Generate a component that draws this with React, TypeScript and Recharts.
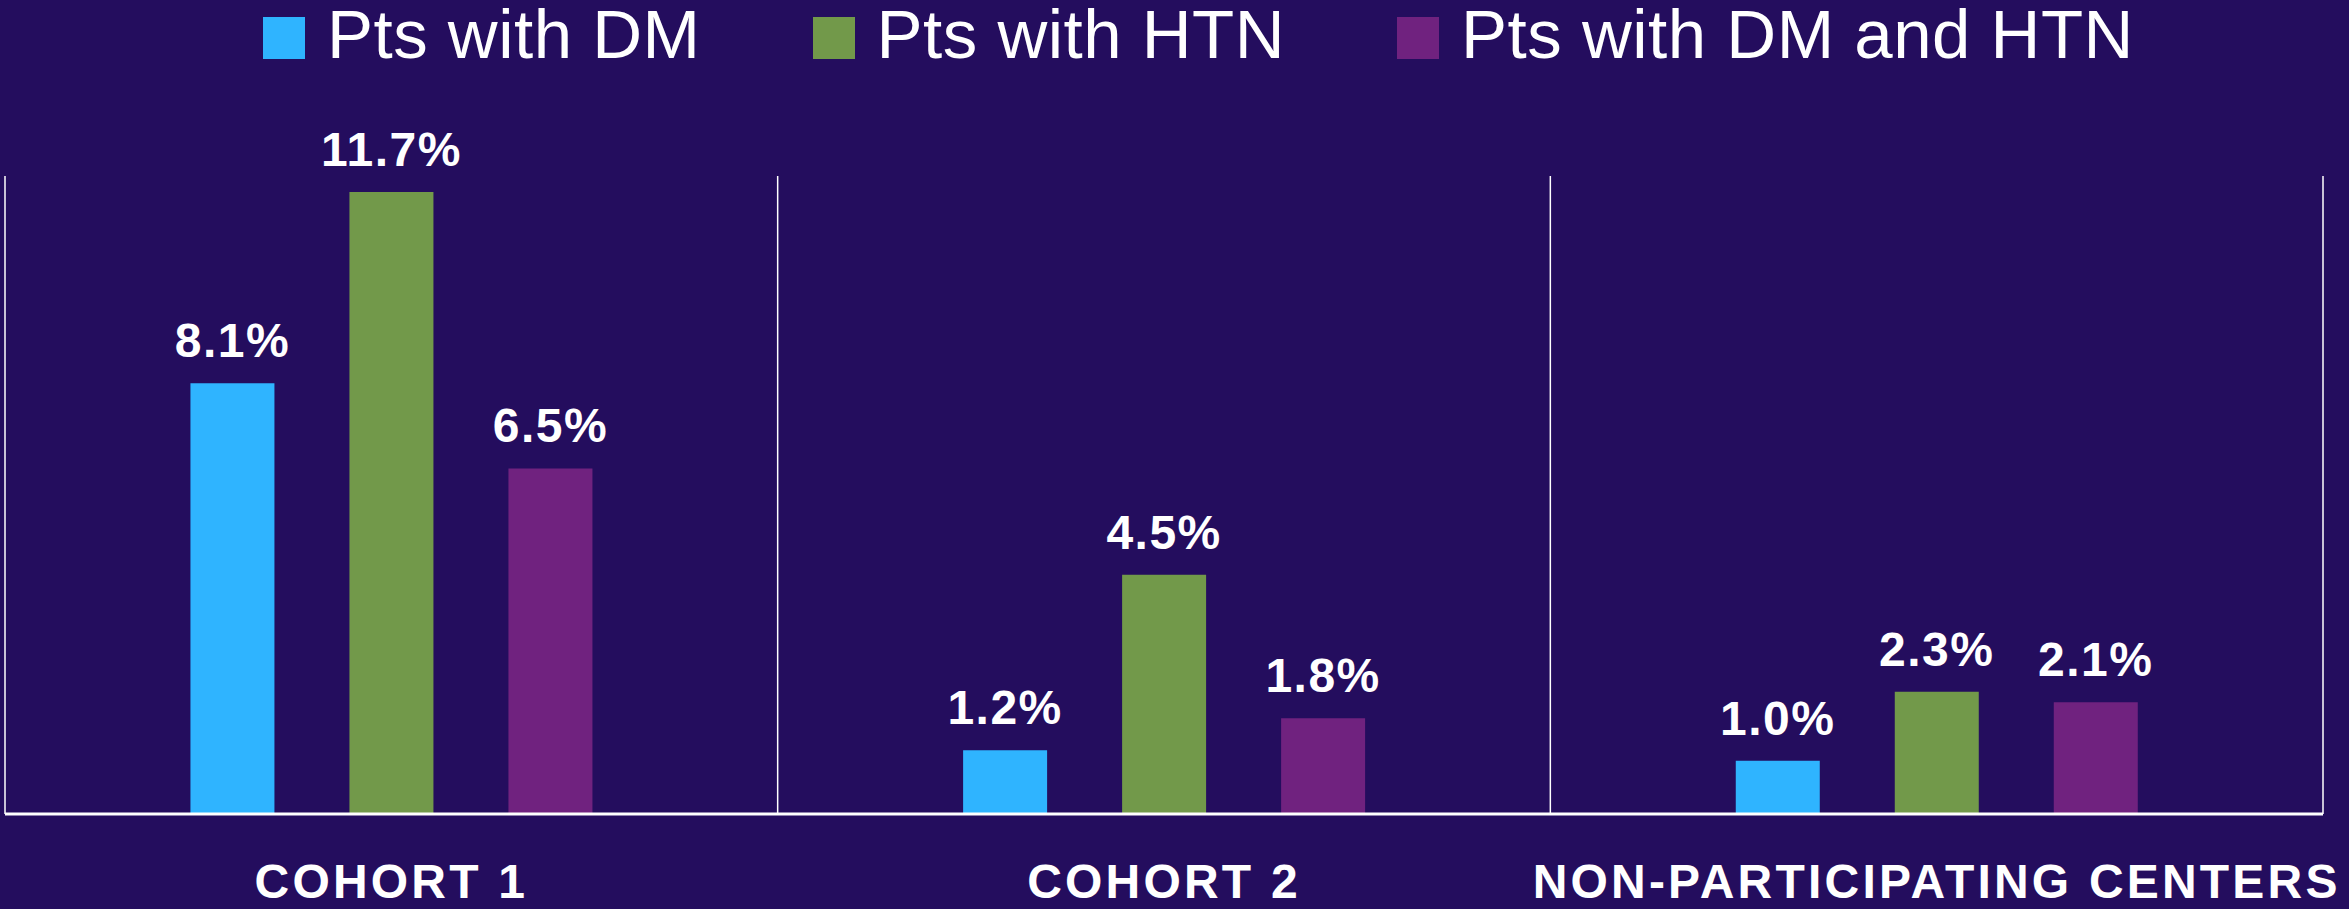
import React from 'react';
import { BarChart, Bar, XAxis, YAxis, CartesianGrid, Legend, LabelList } from 'recharts';

const categories = ['COHORT 1', 'COHORT 2', 'NON-PARTICIPATING CENTERS'];
const dmValues = [8.1, 1.2, 1.0];
const htnValues = [11.7, 4.5, 2.3];
const dmHtnValues = [6.5, 1.8, 2.1];
const seriesNames = ['Pts with DM', 'Pts with HTN', 'Pts with DM and HTN'];
const seriesColors = ['#2fb4ff', '#72994a', '#70227f'];

const chartData = categories.map((name, i) => ({
  name,
  dm: dmValues[i],
  htn: htnValues[i],
  dmHtn: dmHtnValues[i]
}));

const BG = '#240d5e';
const FONT = "'Liberation Sans', Arial, Helvetica, sans-serif";

const renderLegend = (props: any) => {
  const { payload = [] } = props;
  return (
    <div style={{ height: 176, display: 'flex', paddingLeft: 258, boxSizing: 'border-box' }}>
      {payload.map((entry: any, i: number) => (
        <div key={i} style={{ display: 'flex', alignItems: 'flex-start', marginRight: 112 }}>
          <span
            style={{
              display: 'block',
              width: 42,
              height: 42,
              marginTop: 17,
              marginRight: 22,
              background: entry.color
            }}
          />
          <span style={{ fontSize: 69, lineHeight: '69px', color: '#ffffff', whiteSpace: 'nowrap', letterSpacing: 0.5 }}>
            {entry.value}
          </span>
        </div>
      ))}
    </div>
  );
};

// separators at the category band edges
const bandLines = ({ offset }: any) => {
  const { left, width } = offset;
  return [left, left + width / 3, left + (2 * width) / 3, left + width];
};

const labelStyle = { fill: '#ffffff', fontSize: 48, fontWeight: 700, letterSpacing: 1.5, fontFamily: FONT };
const fmt = (v: any) => `${Number(v).toFixed(1)}%`;

export default function App() {
  return (
    <div style={{ width: 2349, height: 909, background: BG, fontFamily: FONT }}>
      <style>{'body{margin:0}'}</style>
      <BarChart
        width={2349}
        height={909}
        data={chartData}
        margin={{ top: 0, right: 26, bottom: 0, left: 5 }}
        barCategoryGap="24%"
        barGap={75}
      >
        <CartesianGrid
          horizontal={false}
          stroke="#ffffff"
          strokeWidth={1.5}
          verticalCoordinatesGenerator={bandLines}
        />
        <XAxis
          dataKey="name"
          interval={0}
          height={95}
          tickLine={false}
          tickSize={0}
          tickMargin={50}
          axisLine={{ stroke: '#ffffff', strokeWidth: 3 }}
          tick={{ fill: '#ffffff', fontSize: 48, fontWeight: 700, letterSpacing: 3.2, fontFamily: FONT }}
        />
        <YAxis hide domain={[0, 12]} />
        <Legend
          verticalAlign="top"
          align="left"
          content={renderLegend}
          itemSorter={(item: any) => seriesNames.indexOf(item.value)}
        />
        <Bar dataKey="dm" name={seriesNames[0]} fill={seriesColors[0]} isAnimationActive={false}>
          <LabelList dataKey="dm" position="top" offset={26} formatter={fmt} style={labelStyle} />
        </Bar>
        <Bar dataKey="htn" name={seriesNames[1]} fill={seriesColors[1]} isAnimationActive={false}>
          <LabelList dataKey="htn" position="top" offset={26} formatter={fmt} style={labelStyle} />
        </Bar>
        <Bar dataKey="dmHtn" name={seriesNames[2]} fill={seriesColors[2]} isAnimationActive={false}>
          <LabelList dataKey="dmHtn" position="top" offset={26} formatter={fmt} style={labelStyle} />
        </Bar>
      </BarChart>
    </div>
  );
}
